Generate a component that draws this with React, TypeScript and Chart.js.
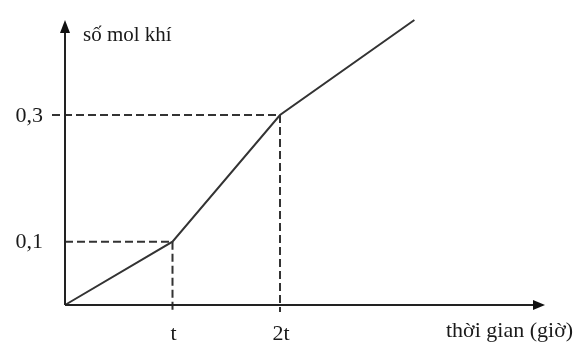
import { useEffect, useRef } from "react";
import { Chart, registerables } from "chart.js";

Chart.register(...registerables);

// Data (x in units of t, y in mol)
const timePoints = [0, 1, 2, 3.25];
const molValues = [0, 0.1, 0.3, 0.45];
const xTickValues = [1, 2];
const xTickLabels = ["t", "2t"];
const yTickValues = [0.1, 0.3];
const yTickLabels = ["0,1", "0,3"];
const guideIndices = [1, 2];
const xTitle = "thời gian (giờ)";
const yTitle = "số mol khí";

const X_MAX = 4.465;
const Y_MAX = 0.45;

const INK = "#333333";
const TEXT = "#1a1a1a";
const FONT = '22px "Liberation Serif", "Times New Roman", serif';
const TITLE_FONT = '21px "Liberation Serif", "Times New Roman", serif';

const sketchPlugin = {
  id: "sketch",
  afterDatasetsDraw(chart: any) {
    const { ctx, chartArea, scales } = chart;
    const xs = scales.x;
    const ys = scales.y;
    const ox = xs.getPixelForValue(0);
    const oy = ys.getPixelForValue(0);
    const right = chartArea.right;
    const top = chartArea.top;

    ctx.save();
    // dashed guides
    ctx.strokeStyle = INK;
    ctx.lineWidth = 2;
    ctx.setLineDash([8, 4]);
    const overhang = [0, 13];
    guideIndices.forEach((idx, k) => {
      const px = xs.getPixelForValue(timePoints[idx]);
      const py = ys.getPixelForValue(molValues[idx]);
      ctx.beginPath();
      ctx.moveTo(ox - overhang[k], py);
      ctx.lineTo(px, py);
      ctx.stroke();
      ctx.beginPath();
      ctx.moveTo(px, py);
      ctx.lineTo(px, oy + 7);
      ctx.stroke();
    });
    ctx.setLineDash([]);

    // axes
    ctx.strokeStyle = "#222";
    ctx.fillStyle = "#111";
    ctx.lineWidth = 2;
    ctx.beginPath();
    ctx.moveTo(ox, oy);
    ctx.lineTo(right - 10, oy);
    ctx.stroke();
    ctx.beginPath();
    ctx.moveTo(right, oy);
    ctx.lineTo(right - 12, oy - 5);
    ctx.lineTo(right - 12, oy + 5);
    ctx.closePath();
    ctx.fill();

    ctx.beginPath();
    ctx.moveTo(ox, oy);
    ctx.lineTo(ox, top + 10);
    ctx.stroke();
    ctx.beginPath();
    ctx.moveTo(ox, top);
    ctx.lineTo(ox - 5, top + 13);
    ctx.lineTo(ox + 5, top + 13);
    ctx.closePath();
    ctx.fill();

    // labels
    ctx.fillStyle = TEXT;
    ctx.font = FONT;
    ctx.textBaseline = "middle";
    ctx.textAlign = "right";
    yTickValues.forEach((v, i) => {
      ctx.fillText(yTickLabels[i], 43, ys.getPixelForValue(v) + 1);
    });
    ctx.textBaseline = "alphabetic";
    ctx.textAlign = "center";
    xTickValues.forEach((v, i) => {
      ctx.fillText(xTickLabels[i], xs.getPixelForValue(v) + 1, 340);
    });
    ctx.textAlign = "left";
    ctx.fillText(xTitle, 446, 337);
    ctx.font = TITLE_FONT;
    ctx.fillText(yTitle, 83, 41);
    ctx.restore();
  },
};

export default function App() {
  const ref = useRef<HTMLCanvasElement | null>(null);
  useEffect(() => {
    document.body.style.margin = "0";
    if (!ref.current) return;
    const chart = new Chart(ref.current, {
      type: "line",
      data: {
        datasets: [
          {
            data: timePoints.map((x, i) => ({ x, y: molValues[i] })),
            borderColor: INK,
            borderWidth: 2,
            pointRadius: 0,
            tension: 0,
            fill: false,
            clip: false as any,
          },
        ],
      },
      options: {
        responsive: false,
        animation: false,
        devicePixelRatio: 1,
        layout: { padding: { left: 65, right: 42, top: 20, bottom: 38 } },
        plugins: { legend: { display: false }, tooltip: { enabled: false } },
        scales: {
          x: { type: "linear", min: 0, max: X_MAX, display: false },
          y: { type: "linear", min: 0, max: Y_MAX, display: false },
        },
      },
      plugins: [sketchPlugin],
    });
    return () => chart.destroy();
  }, []);
  return (
    <div style={{ width: 587, height: 343, background: "#fff" }}>
      <canvas ref={ref} width={587} height={343} style={{ display: "block" }} />
    </div>
  );
}
